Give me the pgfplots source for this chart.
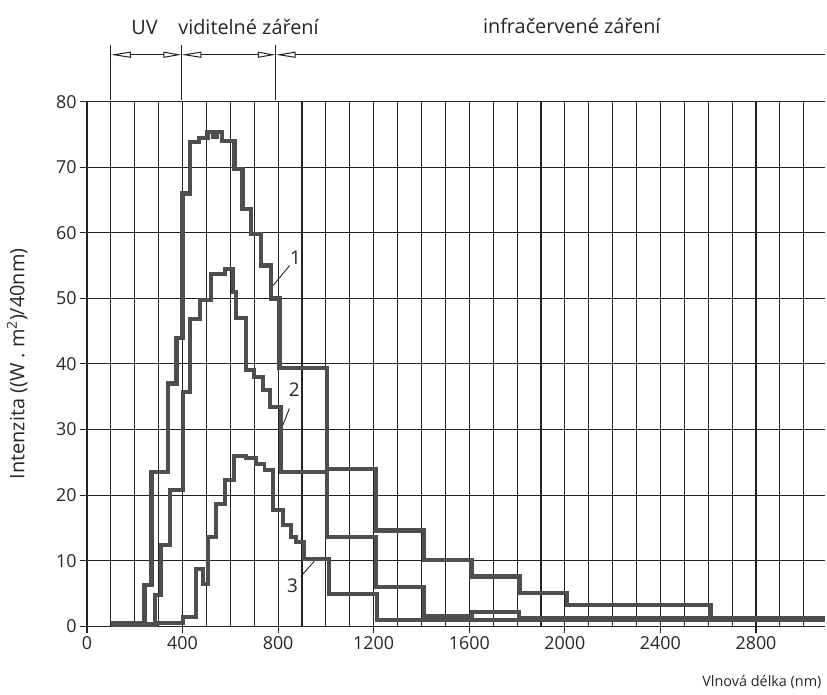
\documentclass[border=0pt]{standalone}
\usepackage{pgfplots}
\pgfplotsset{compat=1.18}
\usepackage{fontspec}
\setmainfont{Open Sans}
\usetikzlibrary{arrows.meta}
\definecolor{curve}{RGB}{78,78,78}
\definecolor{gridc}{RGB}{35,35,35}
\begin{document}
\begin{tikzpicture}[font=\fontsize{18}{21}\selectfont]
\begin{axis}[
  x=0.2396bp, y=6.575bp,
  xmin=0, xmax=3088, ymin=0, ymax=80,
  axis x line*=bottom, axis y line*=left,
  axis line style={gridc, line width=1.3bp},
  xtick={0,400,...,2800}, ytick={0,10,...,80},
  minor xtick={100,200,...,3000},
  grid=both,
  major grid style={gridc, line width=1.1bp},
  minor grid style={gridc, line width=1.1bp},
  tick align=outside, major tick length=7bp, minor tick length=0pt,
  tick style={gridc, line width=1.1bp},
  /pgf/number format/assume math mode=true,
  /pgf/number format/1000 sep={},
  tick label style={font=\fontsize{18}{21}\selectfont, text=black!85},
  clip=false,
]
% curve 1
\addplot[const plot, curve, line width=4.4bp, line join=miter] coordinates {
(100,0.4) (240,6.3) (270,23.5) (340,37) (375,44) (400,66) (430,73.8) (470,74.5)
(505,75.4) (530,74.6) (545,75.4) (566,74) (617,69.7) (651,63.6) (687,59.8)
(729,55) (771,50) (806,39.4) (1005,24) (1210,14.6) (1410,10.1) (1610,7.6)
(1810,5.1) (2010,3.2) (2610,1.2) (3088,1.2)};
% curve 2
\addplot[const plot, curve, line width=4.0bp, line join=miter] coordinates {
(100,0.3) (283,4.8) (311,12.4) (346,20.7) (400,35.7) (430,46.8) (471,49.8)
(520,53.7) (576,54.5) (610,51) (625,47) (666,39) (700,38) (735,36) (765,33.5)
(810,23.5) (1005,13.6) (1210,6.0) (1410,1.5) (1610,2.2) (1810,1.2) (3088,1.2)};
% curve 3
\addplot[const plot, curve, line width=4.0bp, line join=miter] coordinates {
(100,0.2) (290,0.5) (400,1.4) (457,8.8) (485,6.5) (505,13.6) (540,18.7)
(576,22.3) (617,26) (666,25.7) (708,24.8) (743,23.8) (778,17.7) (820,15.4)
(854,13.6) (875,12.9) (910,10.3) (1014,4.9) (1214,1.0) (3088,1.0)};
% curve labels
\node[text=black!85, font=\fontsize{19}{22}\selectfont] at (axis cs:873,56.2) {1};
\draw[gridc, line width=0.9bp] (axis cs:780,52.0) -- (axis cs:848,55.0);
\node[text=black!85, font=\fontsize{19}{22}\selectfont] at (axis cs:868,36.0) {2};
\draw[gridc, line width=0.9bp] (axis cs:819,30.6) -- (axis cs:847,33.2);
\node[text=black!85, font=\fontsize{19}{22}\selectfont] at (axis cs:860,6.1) {3};
\draw[gridc, line width=0.9bp] (axis cs:895,7.6) -- (axis cs:951,9.9);
% top annotation
\draw[gridc, line width=1.2bp] (axis cs:100,80.3) -- (axis cs:100,88.7);
\draw[gridc, line width=1.2bp] (axis cs:395,80.3) -- (axis cs:395,88.7);
\draw[gridc, line width=1.2bp] (axis cs:790,80.3) -- (axis cs:790,88.7);
\draw[gridc, line width=1bp, {Triangle[open,length=20bp,width=6bp]}-{Triangle[open,length=18bp,width=6bp]}] (axis cs:100,87.15) -- (axis cs:395,87.15);
\draw[gridc, line width=1bp, {Triangle[open,length=20bp,width=6bp]}-{Triangle[open,length=18bp,width=6bp]}] (axis cs:395,87.15) -- (axis cs:790,87.15);
\draw[gridc, line width=1bp, {Triangle[open,length=20bp,width=6bp]}-] (axis cs:790,87.15) -- (axis cs:3088,87.15);
\node[anchor=base, text=black!85, font=\fontsize{20}{24}\selectfont] at (axis cs:241,90.2) {UV};
\node[anchor=base, text=black!85, font=\fontsize{20}{24}\selectfont] at (axis cs:676,90.2) {viditelné záření};
\node[anchor=base, text=black!85, font=\fontsize{20}{24}\selectfont] at (axis cs:2029,90.4) {infračervené záření};
% axis labels
\node[rotate=90, text=black!85, font=\fontsize{20}{24}\selectfont] at (axis cs:-292,40) {Intenzita ((W . m\textsuperscript{2})/40nm)};
\node[anchor=east, inner sep=0pt, text=black!85, font=\fontsize{14.5}{17}\selectfont] at (axis cs:3075,-8.6) {Vlnová délka (nm)};
% bounding box to match the reference frame
\path (axis cs:-364,-10.49) rectangle (axis cs:3088,95.5);
\end{axis}
\end{tikzpicture}
\end{document}
